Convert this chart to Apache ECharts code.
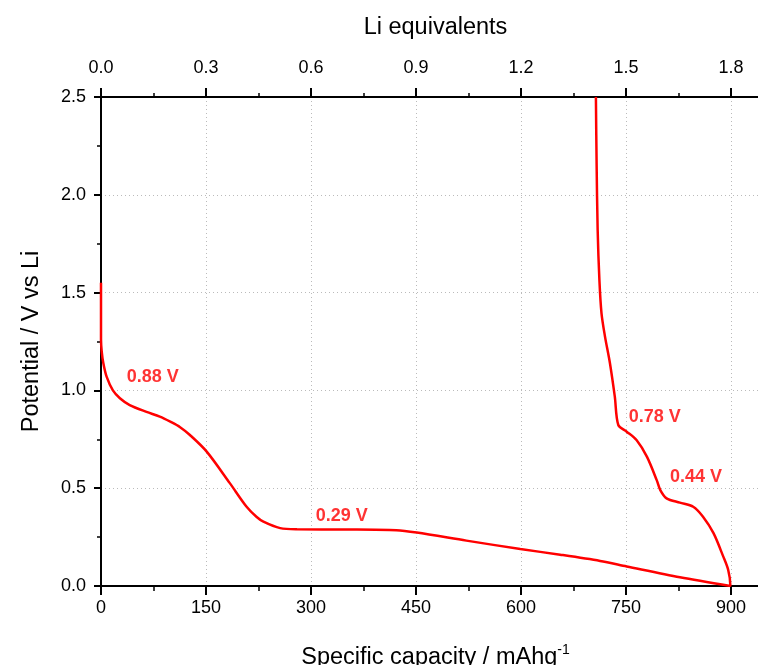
<!DOCTYPE html>
<html>
<head>
<meta charset="utf-8">
<script src="https://cdn.jsdelivr.net/npm/echarts@6/dist/echarts.min.js"></script>
<style>
  html, body { margin: 0; padding: 0; background: #fff; overflow: hidden; }
  #frame { width: 758px; height: 665px; overflow: hidden; position: relative; }
  /* the plot runs past the right edge of the picture, as in the original */
  #chart { width: 770px; height: 665px; position: absolute; left: 0; top: 0; }
</style>
</head>
<body>
<div id="frame"><div id="chart"></div></div>
<script>
// first discharge (lithiation), capacity in mAh/g and potential in V
var dischargeCap = [0, 0, 1, 3.3, 8, 17, 27, 41, 65, 84, 99, 113, 127, 151, 184, 208, 222, 232, 256, 280, 350, 422, 451, 522, 599, 656, 713, 751, 827, 899];
var dischargeV = [1.55, 1.26, 1.20, 1.14, 1.07, 1.00, 0.96, 0.925, 0.89, 0.866, 0.84, 0.812, 0.772, 0.687, 0.526, 0.405, 0.354, 0.329, 0.296, 0.290, 0.289, 0.285, 0.273, 0.232, 0.189, 0.160, 0.128, 0.100, 0.045, 0.0];
// first charge (delithiation)
var chargeCap = [899, 896, 889, 875, 860, 846, 827, 808, 799, 794, 780, 765, 751, 739, 734, 727, 720, 715, 712, 709.5, 708, 707];
var chargeV = [0.005, 0.082, 0.15, 0.27, 0.354, 0.405, 0.426, 0.448, 0.49, 0.54, 0.66, 0.746, 0.789, 0.823, 0.968, 1.14, 1.275, 1.394, 1.564, 1.82, 2.16, 2.50];

// plateau annotations
var noteText = ['0.88 V', '0.29 V', '0.78 V', '0.44 V'];
var noteCap = [74, 344, 791, 850];
var noteV = [1.07, 0.358, 0.864, 0.557];

var capTicks = 150;     // bottom axis step
var liTicks = 0.3;      // top axis step
var capPerLi = 500;     // mAh/g per Li equivalent
var capMax = 955.7;

var curve = [];
dischargeCap.forEach(function (c, i) { curve.push([c, dischargeV[i]]); });
chargeCap.forEach(function (c, i) { curve.push([c, chargeV[i]]); });

var notes = noteText.map(function (t, i) { return { value: [noteCap[i], noteV[i]], name: t }; });

var font = 'Liberation Sans, Arial, sans-serif';
var axisLine = { lineStyle: { color: '#000', width: 2 } };

var chart = echarts.init(document.getElementById('chart'));
var option = {
  animation: false,
  // let the x-axis name run off the bottom edge like the original
  grid: { left: 101, top: 97, bottom: 79, right: 0, outerBoundsMode: 'none' },
  xAxis: [
    {
      type: 'value',
      position: 'bottom',
      min: 0,
      max: capMax,
      interval: capTicks,
      name: 'Specific capacity / mAhg{sup|-1}',
      nameLocation: 'middle',
      nameGap: 57,
      nameTextStyle: {
        fontFamily: font, fontSize: 23.5, color: '#000',
        rich: { sup: { fontFamily: font, fontSize: 14, color: '#000', verticalAlign: 'top', padding: [0, 0, 16, 0] } }
      },
      axisLine: axisLine,
      axisTick: { length: 9, lineStyle: { color: '#000', width: 2 } },
      minorTick: { show: true, splitNumber: 2, length: 5, lineStyle: { color: '#000', width: 1.5 } },
      axisLabel: { fontFamily: font, fontSize: 18, color: '#000', margin: 13, showMaxLabel: false },
      splitLine: { show: true, lineStyle: { color: '#bbb', type: [1, 3], width: 1 } }
    },
    {
      type: 'value',
      position: 'top',
      min: 0,
      max: capMax / capPerLi,
      interval: liTicks,
      name: 'Li equivalents',
      nameLocation: 'middle',
      nameGap: 57,
      nameTextStyle: { fontFamily: font, fontSize: 23.5, color: '#000' },
      axisLine: axisLine,
      axisTick: { length: 9, lineStyle: { color: '#000', width: 2 } },
      minorTick: { show: true, splitNumber: 2, length: 4, lineStyle: { color: '#000', width: 1.5 } },
      axisLabel: {
        fontFamily: font, fontSize: 18, color: '#000', margin: 20, showMaxLabel: false,
        formatter: function (v) { return v.toFixed(1); }
      },
      splitLine: { show: false }
    }
  ],
  yAxis: {
    type: 'value',
    min: 0,
    max: 2.5,
    interval: 0.5,
    name: 'Potential / V vs Li',
    nameLocation: 'middle',
    nameGap: 57,
    nameTextStyle: { fontFamily: font, fontSize: 23.5, color: '#000' },
    axisLine: axisLine,
    axisTick: { length: 7, lineStyle: { color: '#000', width: 2 } },
    minorTick: { show: true, splitNumber: 2, length: 4, lineStyle: { color: '#000', width: 1.5 } },
    axisLabel: {
      fontFamily: font, fontSize: 18, color: '#000', margin: 15,
      formatter: function (v) { return v.toFixed(1); }
    },
    splitLine: { show: true, lineStyle: { color: '#bbb', type: [1, 3], width: 1 } }
  },
  series: [
    {
      type: 'line',
      xAxisIndex: 0,
      data: curve,
      showSymbol: false,
      smooth: 0.3,
      lineStyle: { color: '#ff0000', width: 2.5 },
      z: 3
    },
    {
      type: 'scatter',
      xAxisIndex: 0,
      data: notes,
      symbolSize: 0,
      label: {
        show: true,
        position: 'inside',
        formatter: function (p) { return p.name; },
        fontFamily: font, fontSize: 18, fontWeight: 'bold', color: '#ff0000'
      },
      z: 4
    }
  ]
};
chart.setOption(option);
</script>
</body>
</html>
